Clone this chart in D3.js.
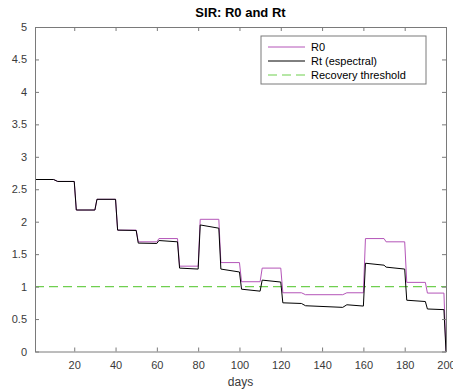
<!DOCTYPE html>
<html>
<head>
<meta charset="utf-8">
<script src="https://cdn.jsdelivr.net/npm/d3@7"></script>
<style>
  html, body { margin: 0; padding: 0; background: #fff; }
  svg { display: block; font-family: "Liberation Sans", Arial, Helvetica, sans-serif; }
</style>
</head>
<body>
<div id="chart"></div>
<script>
// ---- data ----
const r0Days = [1, 10, 12, 20, 21, 30, 31, 40, 41, 50, 51, 60, 61, 70, 71, 80, 81, 90, 91, 100, 101, 110, 111, 120, 121, 130, 132, 150, 152, 160, 161, 170, 171, 180, 181, 190, 191, 199, 200];
const r0Values = [2.65, 2.65, 2.62, 2.62, 2.18, 2.18, 2.345, 2.345, 1.87, 1.87, 1.69, 1.69, 1.74, 1.74, 1.315, 1.315, 2.037, 2.037, 1.37, 1.37, 1.075, 1.075, 1.285, 1.285, 0.905, 0.905, 0.875, 0.875, 0.905, 0.905, 1.74, 1.74, 1.69, 1.69, 1.065, 1.065, 0.90, 0.90, 0];
const rtDays = [1, 10, 12, 20, 21, 30, 31, 40, 41, 50, 51, 60, 61, 70, 71, 80, 81, 90, 91, 100, 101, 110, 111, 120, 121, 130, 132, 150, 152, 160, 161, 170, 171, 180, 181, 190, 191, 199, 200];
const rtValues = [2.65, 2.65, 2.62, 2.62, 2.18, 2.18, 2.345, 2.345, 1.87, 1.865, 1.67, 1.665, 1.71, 1.69, 1.285, 1.27, 1.95, 1.90, 1.27, 1.225, 0.96, 0.93, 1.10, 1.07, 0.75, 0.74, 0.705, 0.68, 0.72, 0.70, 1.36, 1.33, 1.30, 1.27, 0.79, 0.77, 0.655, 0.645, 0];
const thresholdDays = [1, 200];
const thresholdValues = [1, 1];
const xTicks = [20, 40, 60, 80, 100, 120, 140, 160, 180, 200];
const yTicks = [0, 0.5, 1, 1.5, 2, 2.5, 3, 3.5, 4, 4.5, 5];
const seriesNames = ["R0", "Rt (espectral)", "Recovery threshold"];
const seriesColors = ["#b455b8", "#000000", "#6fcf4f"];
const titleText = "SIR: R0 and Rt";
const xLabelText = "days";

// ---- layout ----
const W = 453, H = 389;
const m = { left: 35, top: 27, right: 7, bottom: 37.5 };
const iw = W - m.left - m.right, ih = H - m.top - m.bottom;
const axisColor = "#7a7a7a";
const textColor = "#3a3a3a";

const svg = d3.select("#chart").append("svg").attr("width", W).attr("height", H);
const g = svg.append("g").attr("transform", `translate(${m.left},${m.top})`);

const x = d3.scaleLinear().domain([1, 200]).range([0, iw]);
const y = d3.scaleLinear().domain([0, 5]).range([ih, 0]);

// lines
const line = d3.line().x(d => x(d[0])).y(d => y(d[1]));
const thr = thresholdDays.map((d, i) => [d, thresholdValues[i]]);
const r0 = r0Days.map((d, i) => [d, r0Values[i]]);
const rt = rtDays.map((d, i) => [d, rtValues[i]]);

g.append("path").datum(thr).attr("d", line).attr("fill", "none")
  .attr("stroke", seriesColors[2]).attr("stroke-width", 1.2).attr("stroke-dasharray", "9,5");
g.append("path").datum(r0).attr("d", line).attr("fill", "none")
  .attr("stroke", seriesColors[0]).attr("stroke-width", 1);
g.append("path").datum(rt).attr("d", line).attr("fill", "none")
  .attr("stroke", seriesColors[1]).attr("stroke-width", 1);

// axes (MATLAB box style, inward ticks)
const fs = 11;
const xb = g.append("g").attr("transform", `translate(0,${ih})`)
  .call(d3.axisBottom(x).tickValues(xTicks).tickSizeInner(-4).tickSizeOuter(0).tickPadding(10));
const xt = g.append("g")
  .call(d3.axisTop(x).tickValues(xTicks).tickSizeInner(-4).tickSizeOuter(0).tickFormat(""));
const yl = g.append("g")
  .call(d3.axisLeft(y).tickValues(yTicks).tickSizeInner(-4).tickSizeOuter(0).tickPadding(8).tickFormat(d3.format("")));
const yr = g.append("g").attr("transform", `translate(${iw},0)`)
  .call(d3.axisRight(y).tickValues(yTicks).tickSizeInner(-4).tickSizeOuter(0).tickFormat(""));

[xb, xt, yl, yr].forEach(a => {
  a.selectAll("path.domain").attr("stroke", axisColor).attr("stroke-width", 1);
  a.selectAll(".tick line").attr("stroke", axisColor);
  a.selectAll("text").attr("fill", textColor).style("font-size", fs + "px")
    .style("font-family", "'Liberation Sans', Arial, sans-serif");
});

// title
svg.append("text").attr("x", m.left + iw / 2).attr("y", 17).attr("text-anchor", "middle")
  .style("font-size", "13px").style("font-weight", "bold").attr("fill", "#000").text(titleText);

// x label
svg.append("text").attr("x", m.left + iw / 2).attr("y", H - 3).attr("text-anchor", "middle")
  .style("font-size", "12px").attr("fill", textColor).text(xLabelText);

// legend
const lg = svg.append("g").attr("transform", "translate(261,36)");
lg.append("rect").attr("x", 0).attr("y", 0).attr("width", 165).attr("height", 48)
  .attr("fill", "#fff").attr("stroke", axisColor).attr("stroke-width", 1);
const dashes = [null, null, "9,5"];
seriesNames.forEach((name, i) => {
  const yy = 11 + i * 14;
  lg.append("line").attr("x1", 7).attr("x2", 44).attr("y1", yy).attr("y2", yy)
    .attr("stroke", seriesColors[i]).attr("stroke-width", i === 2 ? 1.2 : 1)
    .attr("stroke-dasharray", dashes[i]);
  lg.append("text").attr("x", 50).attr("y", yy + 4).style("font-size", fs + "px")
    .attr("fill", "#000").text(name);
});
</script>
</body>
</html>
